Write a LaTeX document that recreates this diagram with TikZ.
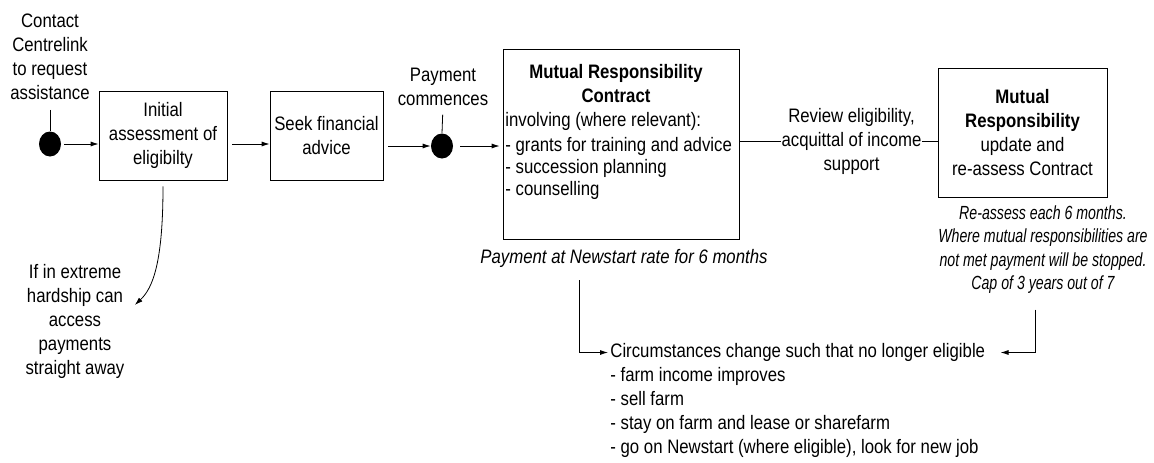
\documentclass[tikz,border=0pt]{standalone}
\usepackage{fontspec}
\setmainfont{Liberation Sans}[FakeStretch=0.86]
\newfontfamily\narrowfont{Liberation Sans}[FakeStretch=0.745]
\usetikzlibrary{arrows.meta,shapes.geometric}
\begin{document}
\begin{tikzpicture}[x=1pt,y=-1pt,
  font=\fontsize{19.5}{24}\selectfont,
  line width=0.8pt,
  box/.style={draw, inner sep=0pt},
  dot/.style={ellipse, fill=black, minimum width=22pt, minimum height=25pt, inner sep=0pt},
  txt/.style={align=center, inner sep=0pt},
  lefttxt/.style={align=left, inner sep=0pt},
  note/.style={align=center, inner sep=0pt, font=\fontsize{19.5}{24}\selectfont\itshape},
  arr/.style={-{Latex[length=8pt,width=5pt]}}
]
\useasboundingbox (0,0) rectangle (1154,463);

% nodes
\node[txt] (contact) at (50,56.5) {Contact\\Centrelink\\to request\\assistance};
\node[dot] (d1) at (50,144) {};
\node[box, txt, minimum width=128pt, minimum height=89pt] (b1) at (163,135.5) {Initial\\assessment of\\eligibilty};
\node[box, txt, minimum width=113pt, minimum height=89pt] (b2) at (326.5,135.5) {Seek financial\\advice};
\node[txt] (pay) at (443,86.5) {Payment\\commences};
\node[dot] (d2) at (442,146) {};

\node[box, minimum width=236pt, minimum height=190pt] (b3) at (621,144) {};
\node[txt, font=\fontsize{19.5}{23.5}\selectfont\bfseries] (b3t) at (616,83.5) {Mutual Responsibility\\Contract};
\node[lefttxt, anchor=west] (b3i) at (505,121.7) {involving (where relevant):};
\node[lefttxt, anchor=west, font=\fontsize{19.5}{22}\selectfont] (b3l) at (505,168.5) {- grants for training and advice\\- succession planning\\- counselling};
\node[note] (pn) at (624,258) {Payment at Newstart rate for 6 months};

\node[txt] (rev) at (851.5,141.7) {Review eligibility,\\acquittal of income\\support};
\node[box, txt, minimum width=169pt, minimum height=129pt] (b4) at (1022.5,132.5) {\textbf{Mutual}\\\textbf{Responsibility}\\update and\\re-assess Contract};
\node[note, font=\narrowfont\fontsize{19}{23.3}\selectfont\itshape] (cap) at (1043,249.5) {Re-assess each 6 months.\\Where mutual responsibilities are\\not met payment will be stopped.\\Cap of 3 years out of 7};

\node[txt] (hard) at (75,321) {If in extreme\\hardship can\\access\\payments\\straight away};

\node[lefttxt, anchor=west] (circ) at (610,352.5) {Circumstances change such that no longer eligible};
\node[lefttxt, anchor=west] (clist) at (610,412.5) {- farm income improves\\- sell farm\\- stay on farm and lease or sharefarm\\- go on Newstart (where eligible), look for new job};

% connectors
\draw[shorten <=10pt] (contact.south) -- (d1.north);
\draw[shorten <=9pt] (pay.south) -- (d2.north);
\draw[arr, shorten <=3pt] (d1.east) -- (b1.west |- d1.east);
\draw[arr, shorten <=5pt] (b1.east |- d1.east) -- (b2.west |- d1.east);
\draw[arr, shorten <=5pt] (b2.east |- d2.west) -- (d2.west);
\draw[arr, shorten <=7pt, shorten >=3pt] (d2.east) -- (b3.west |- d2.east);
\draw (b3.east |- rev.west) -- (rev.west);
\draw (rev.east) -- (b4.west |- rev.east);
\draw[arr, shorten <=6pt] (b1.south) .. controls (163,262) and (153,288) .. ([shift={(10,-16)}]hard.east);
\draw[arr, shorten >=2pt] ([xshift=-45pt, yshift=-13pt]pn.south) |- (circ.west);
\draw[arr, shorten >=15pt] ([xshift=-8pt, yshift=-16pt]cap.south) |- (circ.east);
\end{tikzpicture}
\end{document}
